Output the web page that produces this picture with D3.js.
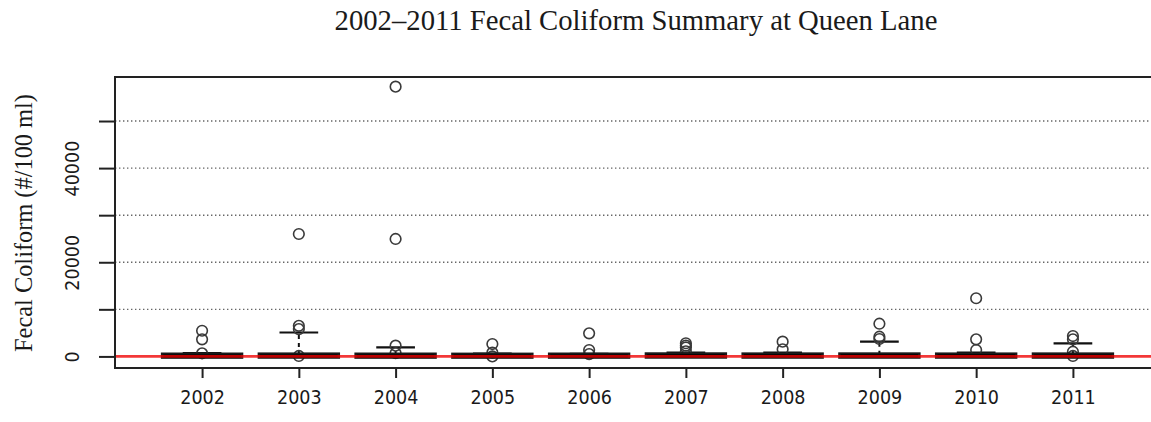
<!DOCTYPE html>
<html lang="en">
<head>
    <meta charset="UTF-8">
    <script src="https://d3js.org/d3.v7.min.js"></script>
    <title>Fecal Coliform Summary at Queen Lane</title>
    <style>
        body { margin: 0; background: #fff; overflow: hidden; }
        svg { display: block; }
    </style>
</head>
<body>
    <script>
        // values (#/100 ml)
        var years = ["2002","2003","2004","2005","2006","2007","2008","2009","2010","2011"];
        var q1 = [20, 30, 20, 20, 20, 40, 30, 30, 30, 30];
        var medians = [90, 110, 100, 80, 90, 150, 120, 130, 120, 110];
        var q3 = [300, 320, 300, 280, 300, 350, 330, 340, 320, 330];
        var whiskerLo = [0, 0, 0, 0, 0, 0, 0, 0, 0, 0];
        var whiskerHi = [700, 5080, 1930, 600, 550, 800, 800, 3130, 790, 2780];
        var outliers = [
            [5450, 3630, 660],
            [26000, 6500, 5800, 100],
            [57300, 24950, 2280, 700],
            [2630, 800, 0],
            [4900, 1360, 500],
            [2800, 2300, 1900, 1100],
            [3130, 1500],
            [6950, 4190, 3700],
            [12350, 3630, 1360],
            [4330, 3630, 1000, 100]
        ];
        var yTicks = [0, 10000, 20000, 30000, 40000, 50000];
        var yTickLabels = ["0", "", "20000", "", "40000", ""];
        var gridLines = [10000, 20000, 30000, 40000, 50000];

        // svg is wider than the window: the plot frame continues past the right edge
        var W = 1220, H = 422;
        var svg = d3.select("body").append("svg").attr("width", W).attr("height", H);

        var x = d3.scaleLinear().domain([0.1, 10.9]).range([115, 1160]);
        var y = d3.scaleLinear().domain([-2460, 59350]).range([368, 77]);
        var xEnd = 11.2;
        var boxW = x(0.8) - x(0);
        var capW = boxW / 2;

        // dotted grid
        svg.selectAll("line.grid").data(gridLines).join("line").attr("class", "grid")
            .attr("x1", x(0.1)).attr("x2", x(xEnd))
            .attr("y1", d => y(d)).attr("y2", d => y(d))
            .style("stroke", "#666").style("stroke-width", 1.4).style("stroke-dasharray", "1.4,2.6");

        var g = svg.selectAll("g.box").data(years).join("g").attr("class", "box");

        // whiskers (dashed) and staples
        g.append("line")
            .attr("x1", (d, i) => x(i + 1)).attr("x2", (d, i) => x(i + 1))
            .attr("y1", (d, i) => y(q3[i])).attr("y2", (d, i) => y(whiskerHi[i]))
            .style("stroke", "#111").style("stroke-width", 2).style("stroke-dasharray", "4,4");
        g.append("line")
            .attr("x1", (d, i) => x(i + 1) - capW / 2).attr("x2", (d, i) => x(i + 1) + capW / 2)
            .attr("y1", (d, i) => y(whiskerHi[i])).attr("y2", (d, i) => y(whiskerHi[i]))
            .style("stroke", "#111").style("stroke-width", 2.2);
        g.append("line")
            .attr("x1", (d, i) => x(i + 1) - capW / 2).attr("x2", (d, i) => x(i + 1) + capW / 2)
            .attr("y1", (d, i) => y(whiskerLo[i])).attr("y2", (d, i) => y(whiskerLo[i]))
            .style("stroke", "#111").style("stroke-width", 2.2);

        // outliers
        g.each(function(d, i) {
            d3.select(this).selectAll("circle").data(outliers[i]).join("circle")
                .attr("cx", x(i + 1)).attr("cy", v => y(v)).attr("r", 5.3)
                .style("fill", "none").style("stroke", "#3a3a3a").style("stroke-width", 1.6);
        });

        // boxes
        g.append("rect")
            .attr("x", (d, i) => x(i + 1) - boxW / 2).attr("width", boxW)
            .attr("y", (d, i) => y(q3[i])).attr("height", (d, i) => y(q1[i]) - y(q3[i]))
            .style("fill", "#8b0000").style("stroke", "#1a1a1a").style("stroke-width", 5);
        g.append("line")
            .attr("x1", (d, i) => x(i + 1) - boxW / 2).attr("x2", (d, i) => x(i + 1) + boxW / 2)
            .attr("y1", (d, i) => y(medians[i])).attr("y2", (d, i) => y(medians[i]))
            .style("stroke", "#000").style("stroke-width", 3);

        // red reference line at zero, drawn over the boxes
        svg.append("line")
            .attr("x1", x(0.1)).attr("x2", x(xEnd)).attr("y1", y(0)).attr("y2", y(0))
            .style("stroke", "#f00000").style("stroke-opacity", 0.78).style("stroke-width", 2.8);

        // frame
        svg.append("rect")
            .attr("x", x(0.1)).attr("y", y(59350))
            .attr("width", x(xEnd) - x(0.1)).attr("height", y(-2460) - y(59350))
            .style("fill", "none").style("stroke", "#222").style("stroke-width", 2);

        var tickFont = "'DejaVu Sans Condensed', 'Liberation Sans Narrow', sans-serif";

        // y axis
        var yAxis = d3.axisLeft(y).tickValues(yTicks).tickSize(16).tickFormat((d, i) => yTickLabels[i]);
        var ya = svg.append("g").attr("transform", "translate(" + x(0.1) + ",0)").call(yAxis);
        ya.select(".domain").remove();
        ya.selectAll(".tick line").style("stroke", "#222").style("stroke-width", 2);
        ya.selectAll(".tick text")
            .attr("x", null).attr("dy", null)
            .attr("transform", "translate(-36,0) rotate(-90)")
            .attr("text-anchor", "middle")
            .style("font-family", tickFont)
            .style("font-size", "19.5px").style("fill", "#1a1a1a");

        // x axis
        var xAxis = d3.axisBottom(x).tickValues(d3.range(1, years.length + 1)).tickSize(10)
            .tickFormat(d => years[d - 1]);
        var xa = svg.append("g").attr("transform", "translate(0," + y(-2460) + ")").call(xAxis);
        xa.select(".domain").remove();
        xa.selectAll(".tick line").style("stroke", "#222").style("stroke-width", 2);
        xa.selectAll(".tick text").attr("y", 36).attr("dy", null)
            .style("font-family", tickFont)
            .style("font-size", "19.5px").style("fill", "#1a1a1a");

        // title, fitted to the reference width
        var title = svg.append("text").attr("x", 636).attr("y", 30).attr("text-anchor", "middle")
            .style("font-family", "'Liberation Serif', serif").style("fill", "#1a1a1a")
            .text("2002\u20132011 Fecal Coliform Summary at Queen Lane");
        var ts = 24;
        title.style("font-size", ts + "px");
        ts = ts * 603 / title.node().getComputedTextLength();
        title.style("font-size", ts + "px");

        // y axis title
        var yt = svg.append("text").attr("transform", "translate(32,223) rotate(-90)")
            .attr("text-anchor", "middle")
            .style("font-family", "'Liberation Serif', serif").style("fill", "#1a1a1a")
            .text("Fecal Coliform (#/100 ml)");
        var ys = 20;
        yt.style("font-size", ys + "px");
        ys = ys * 258 / yt.node().getComputedTextLength();
        yt.style("font-size", ys + "px");
    </script>
</body>
</html>
